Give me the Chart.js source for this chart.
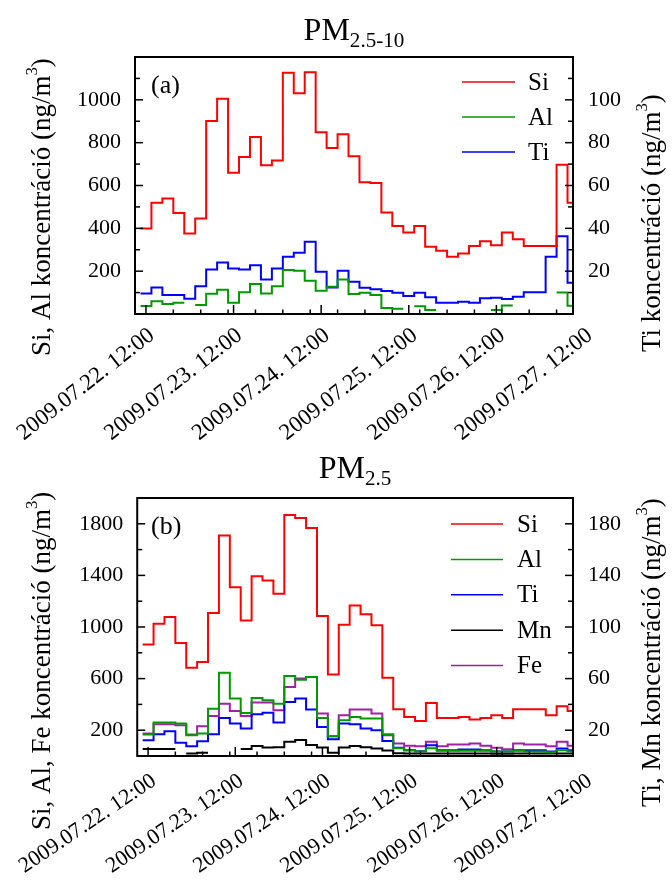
<!DOCTYPE html>
<html><head><meta charset="utf-8">
<script src="https://cdn.jsdelivr.net/npm/chart.js@4.4.0/dist/chart.umd.min.js"></script>
<style>
html,body{margin:0;padding:0;background:#fff;}
canvas{display:block;}
</style></head><body>
<canvas id="ca" width="672" height="440"></canvas>
<canvas id="cb" width="672" height="441"></canvas>
<script>
const FONT = "'Liberation Serif','Times New Roman',serif";

// sample centres, hours after 2009.07.22 12:00 (3-hour samples)
const hours = [0,3,6,9,12,15,18,21,24,27,30,33,36,39,42,45,48,51,54,57,60,63,66,69,72,75,78,81,84,87,90,93,96,99,102,105,108,111,114,117];
const xLabelHours = [0,24,48,72,96,120];
const xTickLabels = ['2009.07.22. 12:00','2009.07.23. 12:00','2009.07.24. 12:00','2009.07.25. 12:00','2009.07.26. 12:00','2009.07.27. 12:00'];
const xMajorHours = [0,24,48,72,96];
const xMinorHours = [7.5,15,22.5,30,37.5,45,52.5,60,67.5,75,82.5,90,97.5,105,112.5];

// (a) PM2.5-10
const siA = [399,519,539,472,376,446,901,1005,660,733,826,694,717,1126,1031,1129,849,775,839,736,615,612,474,411,380,411,314,295,267,283,317,340,321,380,349,317,317,317,697,519];
const alA = [37,60,47,53,null,42,95,113,53,101,140,96,130,205,202,155,109,127,161,93,99,89,28,24,null,36,19,null,null,null,null,null,19,40,null,null,null,null,100,38];
const tiA = [9.6,12.4,8.9,8.9,7.1,13.0,20.8,24.1,21.3,20.8,22.8,16.1,21.3,26.7,28.6,33.7,19.7,12.4,20.2,15.1,12.3,11.5,10.7,9.9,8.4,9.9,7.8,5.3,5.3,5.7,5.3,7.3,7.6,7.0,8.1,10.1,10.1,26.7,36.3,14.6];

// (b) PM2.5
const siB = [865,1025,1077,876,685,729,1108,1709,1309,1051,1394,1360,1257,1868,1845,1768,1085,631,1018,1167,1098,1013,607,362,303,272,411,295,295,303,282,295,316,295,362,362,362,316,385,349];
const alB = [166,259,259,251,161,174,367,646,445,334,450,432,406,620,591,612,295,153,277,303,290,290,169,60,45,35,60,40,40,40,40,40,35,35,40,35,35,30,45,35];
const tiB = [12.2,16.9,19.2,10.2,7.6,11.5,16.9,29.5,25.1,21.3,32.4,33.6,25.9,41.9,44.5,36.0,22.5,13.0,25.1,24.6,21.3,20.0,11.7,6.3,4.5,3.7,8.4,4.5,4.5,5,5,4.5,3.5,3.5,4.5,4.5,4.5,3.5,5.8,4.5];
const mnB = [5.5,5.5,5.5,null,2,2.5,null,null,null,5.5,7.8,6.5,6.8,11,12.5,8.5,6.5,2.5,6.5,7.8,6.8,5.8,4.2,2.2,2,2,2,2,2,2,2,2,1.8,1.8,2,2,2,2,2,2];
const feB = [174,246,246,238,166,231,311,406,349,311,414,414,355,535,600,612,329,153,316,360,360,329,161,97,79,76,110,76,89,89,97,79,63,53,97,89,89,76,110,79];

const HALF = 1.5;
function stepPoints(vals){
  const pts = [];
  vals.forEach((v,i)=>{
    const h = hours[i];
    if (v === null) { pts.push({x:h, y:null}); }
    else { pts.push({x:h-HALF, y:v}, {x:h+HALF, y:v}); }
  });
  return pts;
}

function drawRich(ctx, parts, x, y, size){
  let cx = x;
  parts.forEach(p=>{
    const s = p.sup ? size*0.62 : (p.sub ? size*0.66 : size);
    ctx.font = s + 'px ' + FONT;
    const dy = p.sup ? -size*0.38 : (p.sub ? size*0.22 : 0);
    ctx.fillText(p.t, cx, y+dy);
    cx += ctx.measureText(p.t).width;
  });
  return cx - x;
}
function richWidth(ctx, parts, size){
  let w = 0;
  parts.forEach(p=>{
    const s = p.sup ? size*0.62 : (p.sub ? size*0.66 : size);
    ctx.font = s + 'px ' + FONT;
    w += ctx.measureText(p.t).width;
  });
  return w;
}

const decorPlugin = {
  id: 'decor',
  afterDraw(chart, args, o){
    const ctx = chart.ctx, a = chart.chartArea;
    const sx = chart.scales.x, sl = chart.scales.y, sr = chart.scales.y2;
    ctx.save();
    ctx.strokeStyle = '#000'; ctx.fillStyle = '#000'; ctx.lineWidth = 1.5;
    const seg = (x1,y1,x2,y2)=>{ctx.beginPath();ctx.moveTo(x1,y1);ctx.lineTo(x2,y2);ctx.stroke();};
    xMajorHours.forEach(h=>{const p=sx.getPixelForValue(h); seg(p,a.bottom,p,a.bottom-9);});
    xMinorHours.forEach(h=>{const p=sx.getPixelForValue(h); seg(p,a.bottom,p,a.bottom-4.5);});
    sl.ticks.forEach(t=>{const p=sl.getPixelForValue(t.value); seg(a.left,p,a.left+(t.label!==''?8:5),p);});
    sr.ticks.forEach(t=>{const p=sr.getPixelForValue(t.value); seg(a.right,p,a.right-(t.label!==''?8:5),p);});
    ctx.lineWidth = 2;
    ctx.strokeRect(a.left, a.top, a.right-a.left, a.bottom-a.top);

    // title
    ctx.textBaseline = 'alphabetic'; ctx.textAlign = 'left';
    const tw = richWidth(ctx, o.title, 32);
    drawRich(ctx, o.title, (a.left+a.right)/2 - tw/2, o.titleY, 32);

    // panel letter
    ctx.font = '26px ' + FONT; ctx.textBaseline = 'middle';
    ctx.fillText(o.letter.text, o.letter.x, o.letter.y);

    // legend
    chart.data.datasets.forEach((ds,i)=>{
      const y = o.legend.y0 + i*o.legend.dy;
      ctx.strokeStyle = ds.borderColor; ctx.lineWidth = 1.5;
      seg(o.legend.x1, y, o.legend.x2, y);
      ctx.fillStyle = '#000'; ctx.font = o.legend.size + 'px ' + FONT;
      ctx.textBaseline = 'middle';
      ctx.fillText(ds.label, o.legend.tx, y+1);
    });

    // axis titles (reading bottom to top)
    ctx.fillStyle = '#000'; ctx.textBaseline = 'middle';
    [o.leftTitle, o.rightTitle].forEach(t=>{
      ctx.save();
      ctx.translate(t.x, t.y);
      ctx.rotate(-Math.PI/2);
      drawRich(ctx, t.parts, 0, 0, t.size);
      ctx.restore();
    });
    ctx.restore();
  }
};

function makeChart(id, H, cfg){
  return new Chart(document.getElementById(id), {
    type: 'line',
    data: { datasets: cfg.series.map(s=>({
      label: s.label, data: stepPoints(s.values), borderColor: s.color, backgroundColor: s.color,
      borderWidth: 2, pointRadius: 0, fill: false, tension: 0, spanGaps: false, yAxisID: s.axis
    })) },
    options: {
      responsive: false, animation: false, devicePixelRatio: 1,
      layout: { padding: { top: cfg.top, left: 0, right: 0, bottom: 0 } },
      plugins: { legend: { display: false }, tooltip: { enabled: false }, decor: cfg.decor },
      scales: {
        x: { type: 'linear', position: 'bottom', min: -3, max: 117,
          grid: { display: false, drawTicks: false }, border: { display: false },
          afterBuildTicks: ax => { ax.ticks = xLabelHours.map(v=>({value:v})); },
          ticks: { autoSkip: false, minRotation: cfg.xRot, maxRotation: cfg.xRot, padding: cfg.xPad,
            labelOffset: 6, color: '#000',
            font: { family: FONT, size: cfg.xFont }, callback: (v,i)=>xTickLabels[i] },
          afterFit: ax => { ax.height = H - cfg.bottom; } },
        y: { type: 'linear', position: 'left', min: 0, max: cfg.yMax,
          grid: { display: false, drawTicks: false }, border: { display: false },
          ticks: { autoSkip: false, stepSize: cfg.yStep, padding: 14, color: '#000', font: { family: FONT, size: 22 },
            callback: cfg.yLabel },
          afterFit: ax => { ax.width = 135; } },
        y2: { type: 'linear', position: 'right', min: 0, max: cfg.yMax/10,
          grid: { display: false, drawTicks: false }, border: { display: false },
          ticks: { autoSkip: false, stepSize: cfg.yStep/10, padding: 15, color: '#000', font: { family: FONT, size: 22 },
            callback: v => cfg.yLabel(Math.round(v*10)) === '' ? '' : String(Math.round(v)) },
          afterFit: ax => { ax.width = 99; } }
      }
    },
    plugins: [decorPlugin]
  });
}

makeChart('ca', 440, {
  top: 57, bottom: 314, yMax: 1200, yStep: 100, xRot: 38, xFont: 23, xPad: 8,
  yLabel: v => (v % 200 === 0 && v > 0 && v < 1200) ? String(v) : '',
  series: [
    {label:'Si', values: siA, color:'#ff0000', axis:'y'},
    {label:'Al', values: alA, color:'#009a00', axis:'y'},
    {label:'Ti', values: tiA, color:'#0000ff', axis:'y2'}
  ],
  decor: {
    title: [{t:'PM'},{t:'2.5-10',sub:true}], titleY: 40,
    letter: {text:'(a)', x:151, y:86},
    legend: {x1:462, x2:515, tx:528, y0:82, dy:35, size:25},
    leftTitle: {x:43, y:356, size:27, parts:[{t:'Si, Al koncentráció (ng/m'},{t:'3',sup:true},{t:')'}]},
    rightTitle: {x:653, y:352, size:27, parts:[{t:'Ti koncentráció (ng/m'},{t:'3',sup:true},{t:')'}]}
  }
});

makeChart('cb', 441, {
  top: 58, bottom: 316, yMax: 2000, yStep: 200, xRot: 34, xFont: 22, xPad: 12,
  yLabel: v => (Math.round(v) % 400 === 200) ? String(Math.round(v)) : '',
  series: [
    {label:'Si', values: siB, color:'#ff0000', axis:'y'},
    {label:'Al', values: alB, color:'#009a00', axis:'y'},
    {label:'Ti', values: tiB, color:'#0000ff', axis:'y2'},
    {label:'Mn', values: mnB, color:'#000000', axis:'y2'},
    {label:'Fe', values: feB, color:'#a020a8', axis:'y'}
  ],
  decor: {
    title: [{t:'PM'},{t:'2.5',sub:true}], titleY: 38,
    letter: {text:'(b)', x:151, y:87},
    legend: {x1:451, x2:503, tx:517, y0:84, dy:35.4, size:25},
    leftTitle: {x:43, y:390, size:27, parts:[{t:'Si, Al, Fe koncentráció (ng/m'},{t:'3',sup:true},{t:')'}]},
    rightTitle: {x:653, y:367, size:27, parts:[{t:'Ti, Mn koncentráció (ng/m'},{t:'3',sup:true},{t:')'}]}
  }
});
</script>
</body></html>
